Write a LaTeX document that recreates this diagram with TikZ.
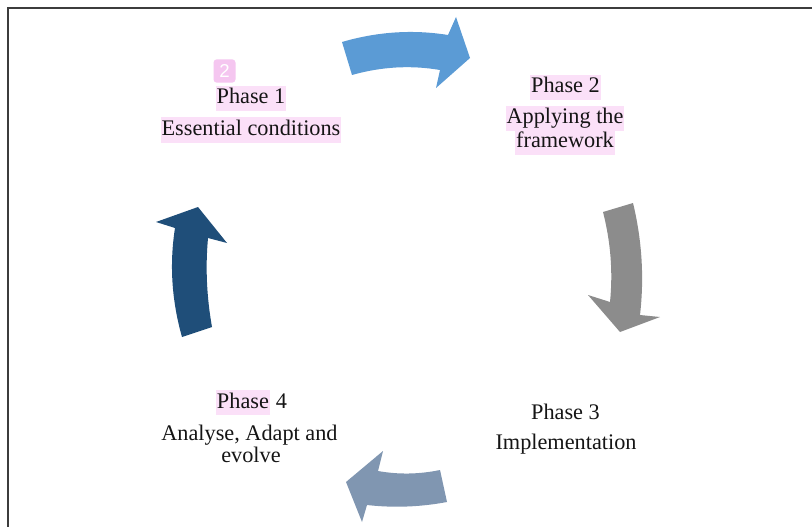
\documentclass[tikz,border=0pt]{standalone}
\usepackage{fontspec}
\setmainfont{Liberation Serif}
\newfontfamily\badgefont{Liberation Sans}
\definecolor{hl}{HTML}{FBE0F8}
\definecolor{badge}{HTML}{F5C6F0}
\definecolor{arrA}{HTML}{5B9BD5}
\definecolor{arrB}{HTML}{8C8C8C}
\definecolor{arrC}{HTML}{8096B1}
\definecolor{arrD}{HTML}{1F4E79}
\definecolor{txt}{HTML}{151515}
\definecolor{frame}{HTML}{3C3C3C}
\tikzset{
  lbl/.style={anchor=base, inner sep=0pt, text=txt, font=\fontsize{16.7}{19}\selectfont},
  hlbox/.style={lbl, fill=hl, inner xsep=0.6pt, inner ysep=0.8pt, text height=12.8pt, text depth=4.6pt, anchor=base}
}
\begin{document}
\begin{tikzpicture}[x=0.75pt,y=-0.75pt]
\useasboundingbox (0,0) rectangle (812,527);
\fill[white] (0,0) rectangle (812,527);
% frame
\draw[frame, line width=1.3pt] (8,527) -- (8,8) -- (812,8);

% arrows
\fill[arrA] (342,42) .. controls (377.3,31.7) and (412.7,29.3) .. (448,35) -- (456,17) -- (470,58) -- (436,88) -- (440,70) .. controls (410.7,65) and (381.3,66.7) .. (352,75) -- cycle;
\fill[arrB] (603,212) -- (633,203) .. controls (642,240.3) and (644.3,277.7) .. (640,315) -- (660,317) -- (620,332) -- (588,295) -- (610,302) .. controls (613,272) and (610.7,242) .. (603,212) -- cycle;
\fill[arrC] (440,470) .. controls (419.3,474.3) and (398.7,474.7) .. (378,471) -- (383,451) -- (346,482) -- (362,522) -- (367,505) .. controls (393.7,508) and (420.3,507) .. (447,502) -- cycle;
\fill[arrD] (212,327) -- (182,337) .. controls (171.7,300.7) and (169.3,264.3) .. (175,228) -- (156,222) -- (198,207) -- (227,243) -- (208,238) .. controls (205.3,267.7) and (206.7,297.3) .. (212,327) -- cycle;

% badge
\node[fill=badge, rounded corners=2.5pt, minimum width=16.5pt, minimum height=17.5pt, inner sep=0pt, text=white, font=\badgefont\fontsize{14}{16}\selectfont] (badge) at (224.5,71) {2};

% Phase 1
\node[hlbox] (p1) at (251,104) {Phase 1};
\node[hlbox] (p1t) at (251,135.5) {Essential conditions};

% Phase 2
\node[hlbox] (p2) at (565.5,93) {Phase 2};
\node[hlbox] (p2t) at (565,124) {Applying the};
\node[hlbox] (p2u) at (565,147.5) {framework};

% Phase 3
\node[lbl] (p3) at (565.5,419) {Phase 3};
\node[lbl] (p3t) at (566,449) {Implementation};

% Phase 4
\node[hlbox, anchor=base east] (p4a) at (270,408) {Phase};
\node[lbl, anchor=base west] (p4b) at (p4a.base east) {\ 4};
\node[lbl] (p4t) at (249.5,440) {Analyse, Adapt and};
\node[lbl] (p4u) at (251,462.5) {evolve};
\end{tikzpicture}
\end{document}
